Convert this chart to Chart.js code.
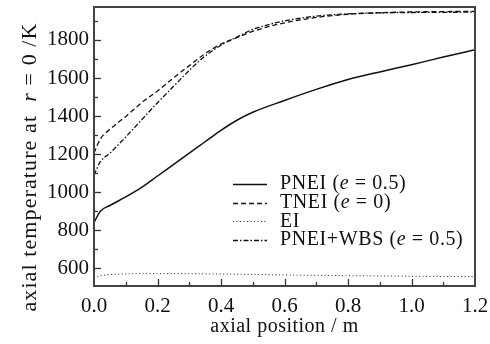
<!DOCTYPE html>
<html>
<head>
<meta charset="utf-8">
<script src="https://cdn.jsdelivr.net/npm/chart.js@4.4.0/dist/chart.umd.min.js"></script>
<style>
  html, body { margin: 0; padding: 0; background: #fff; }
</style>
</head>
<body>
<canvas id="temperatureCanvas" width="490" height="344"></canvas>
<script>
// axial position (m) and centre-line temperature (K)
const axialPos = [0, 0.02, 0.05, 0.1, 0.15, 0.2, 0.25, 0.3, 0.35, 0.4, 0.45, 0.5, 0.6, 0.7, 0.8, 0.9, 1.0, 1.1, 1.2];
const pneiTemp = [840, 900, 930, 975, 1025, 1085, 1145, 1205, 1265, 1325, 1378, 1420, 1482, 1540, 1592, 1632, 1670, 1710, 1748];
const tneiTemp = [1205, 1280, 1330, 1398, 1470, 1532, 1600, 1665, 1728, 1778, 1812, 1845, 1890, 1918, 1935, 1943, 1947, 1949, 1950];
const eiTemp = [550, 560, 567, 570, 572, 572, 572, 572, 571, 570, 569, 568, 565, 563, 561, 560, 558, 557, 556];
const wbsTemp = [1090, 1160, 1205, 1290, 1380, 1470, 1555, 1640, 1715, 1772, 1815, 1855, 1900, 1925, 1937, 1942, 1944, 1945, 1946];

const seriesNames = ["PNEI", "TNEI", "EI", "PNEI+WBS"];
const seriesEps = ["0.5", "0", null, "0.5"];

const SERIF = "'Liberation Serif', 'Times New Roman', serif";

function toPoints(ys) {
  let pts = [];
  for (let i = 0; i < axialPos.length; i++) {
    pts.push({ x: axialPos[i], y: ys[i] });
  }
  return pts;
}

// frame around the plot + inward ticks (major and minor)
const framePlugin = {
  id: "frame",
  afterDatasetsDraw(chart) {
    const ctx = chart.ctx;
    const a = chart.chartArea;
    const xs = chart.scales.x;
    const ys = chart.scales.y;
    ctx.save();
    ctx.strokeStyle = "#333";
    ctx.lineWidth = 1.3;
    for (let i = 1; i < 12; i++) {
      let px = Math.round(xs.getPixelForValue(i / 10)) + 0.5;
      let len = i % 2 === 0 ? 7 : 4;
      ctx.beginPath();
      ctx.moveTo(px, a.bottom);
      ctx.lineTo(px, a.bottom - len);
      ctx.stroke();
    }
    for (let v = 600; v <= 1900; v += 100) {
      let py = Math.round(ys.getPixelForValue(v)) + 0.5;
      let len = v % 200 === 0 ? 7 : 4;
      ctx.beginPath();
      ctx.moveTo(a.left, py);
      ctx.lineTo(a.left + len, py);
      ctx.stroke();
    }
    ctx.lineWidth = 2;
    ctx.strokeStyle = "#444";
    ctx.strokeRect(a.left, a.top, a.right - a.left, a.bottom - a.top);
    ctx.restore();
  },
};

// draw a row of text pieces, some in italics
function drawPieces(ctx, pieces, x, y, size) {
  let cx = x;
  for (let p of pieces) {
    ctx.font = (p.it ? "italic " : "") + size + "px " + SERIF;
    ctx.fillText(p.t, cx, y);
    cx += ctx.measureText(p.t).width;
  }
  return cx;
}

function piecesWidth(ctx, pieces, size) {
  let w = 0;
  for (let p of pieces) {
    ctx.font = (p.it ? "italic " : "") + size + "px " + SERIF;
    w += ctx.measureText(p.t).width;
  }
  return w;
}

const titlePlugin = {
  id: "titles",
  afterDraw(chart) {
    const ctx = chart.ctx;
    const a = chart.chartArea;
    ctx.save();
    ctx.fillStyle = "#111";
    ctx.textBaseline = "middle";
    ctx.textAlign = "left";
    ctx.letterSpacing = "0.5px";

    // x title
    let xt = [{ t: "axial position / m" }];
    let w = piecesWidth(ctx, xt, 20);
    drawPieces(ctx, xt, (a.left + a.right) / 2 - w / 2, 327, 20);

    // y title
    ctx.letterSpacing = "1.1px";
    let yt = [{ t: "axial temperature at  " }, { t: "r", it: true }, { t: " = 0 /K" }];
    ctx.translate(30, 167);
    ctx.rotate(-Math.PI / 2);
    w = piecesWidth(ctx, yt, 22);
    drawPieces(ctx, yt, -w / 2, 0, 22);
    ctx.restore();
  },
};

const legendPlugin = {
  id: "innerLegend",
  afterDraw(chart) {
    const ctx = chart.ctx;
    ctx.save();
    ctx.textBaseline = "middle";
    ctx.textAlign = "left";
    ctx.fillStyle = "#111";
    ctx.letterSpacing = "0.6px";
    chart.data.datasets.forEach(function (ds, i) {
      let y = 184 + i * 18.7;
      ctx.strokeStyle = ds.borderColor;
      ctx.lineWidth = ds.borderWidth;
      ctx.setLineDash(ds.borderDash || []);
      ctx.beginPath();
      ctx.moveTo(233, Math.round(y) + 0.5);
      ctx.lineTo(267, Math.round(y) + 0.5);
      ctx.stroke();
      ctx.setLineDash([]);
      let pieces = [{ t: seriesNames[i] }];
      if (seriesEps[i] !== null) {
        pieces.push({ t: " (" }, { t: "e", it: true }, { t: " = " + seriesEps[i] + ")" });
      }
      drawPieces(ctx, pieces, 280, y, 20);
    });
    ctx.restore();
  },
};

new Chart(document.getElementById("temperatureCanvas"), {
  type: "line",
  data: {
    datasets: [
      {
        label: "PNEI",
        data: toPoints(pneiTemp),
        borderColor: "#111",
        borderWidth: 1.5,
        borderDash: [],
      },
      {
        label: "TNEI",
        data: toPoints(tneiTemp),
        borderColor: "#111",
        borderWidth: 1.3,
        borderDash: [5, 3],
      },
      {
        label: "EI",
        data: toPoints(eiTemp),
        borderColor: "#222",
        borderWidth: 1,
        borderDash: [1, 2.5],
      },
      {
        label: "PNEI+WBS",
        data: toPoints(wbsTemp),
        borderColor: "#111",
        borderWidth: 1.3,
        borderDash: [5, 2, 1.5, 2],
      },
    ],
  },
  options: {
    responsive: false,
    animation: false,
    devicePixelRatio: 1,
    elements: {
      point: { radius: 0 },
      line: { cubicInterpolationMode: "monotone" },
    },
    layout: { padding: { top: 7, right: 15, left: 0, bottom: 0 } },
    plugins: {
      legend: { display: false },
      tooltip: { enabled: false },
    },
    scales: {
      x: {
        type: "linear",
        min: 0,
        max: 1.2,
        grid: { display: false, drawTicks: false },
        border: { display: false },
        ticks: {
          stepSize: 0.2,
          padding: 8,
          color: "#111",
          font: { family: SERIF, size: 21 },
          maxRotation: 0,
          callback: function (v) {
            return v.toFixed(1);
          },
        },
        afterFit: function (scale) {
          scale.height = 58;
          scale.paddingLeft = 0;
          scale.paddingRight = 0;
        },
      },
      y: {
        type: "linear",
        min: 507,
        max: 1973,
        grid: { display: false, drawTicks: false },
        border: { display: false },
        ticks: {
          stepSize: 200,
          includeBounds: false,
          padding: 5,
          color: "#111",
          font: { family: SERIF, size: 21 },
          callback: function (v) {
            return String(v);
          },
        },
        afterFit: function (scale) {
          scale.width = 94;
          scale.paddingTop = 0;
          scale.paddingBottom = 0;
        },
      },
    },
  },
  plugins: [framePlugin, titlePlugin, legendPlugin],
});
</script>
</body>
</html>
